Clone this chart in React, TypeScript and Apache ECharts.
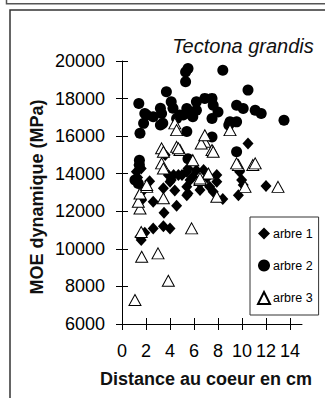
import React, { useEffect, useRef } from "react";
import * as echarts from "echarts";

// Distance from the pith (cm) and dynamic MOE (MPa) for each sampled tree
const arbre1: [number, number][] = [
  [1.2, 14100], [1.4, 14460], [1.6, 14280], [1.3, 13800], [1.8, 13130], [1.64, 12600],
  [1.5, 10650], [1.6, 10470], [1.9, 10860], [2.6, 11090], [3.45, 11210], [4.0, 11090],
  [3.5, 11920], [2.6, 12510], [4.55, 12300], [5.4, 12860], [3.45, 13220], [4.0, 13570],
  [4.3, 13930], [4.7, 13930], [5.4, 13300], [3.6, 14990], [3.86, 13930], [4.1, 13660],
  [5.0, 13930], [5.5, 14280], [5.67, 13660], [6.2, 14190], [6.5, 13480], [6.5, 13130],
  [5.5, 12950], [5.9, 13840], [5.4, 14100], [7.9, 13930], [7.9, 13570], [7.6, 13040],
  [8.4, 12650], [9.7, 12860], [9.8, 14100], [9.97, 13660], [10.1, 13400], [12.0, 13350],
  [10.5, 15610], [6.8, 14200], [7.1, 13800], [7.3, 13300], [2.3, 13600], [4.4, 13100],
];

const arbre2: [number, number][] = [
  [1.4, 17740], [1.5, 16150], [1.8, 16680], [2.05, 17120], [2.6, 17030], [3.2, 17490],
  [3.2, 16590], [3.7, 18360], [4.1, 17830], [4.25, 17490], [4.55, 16940], [5.3, 19420],
  [5.5, 19600], [5.3, 18890], [5.4, 16250], [6.2, 17380], [8.4, 19510], [10.5, 18450],
  [6.2, 17830], [6.9, 18010], [7.5, 18010], [7.6, 17650], [8.0, 17290], [7.5, 16940],
  [5.4, 17470], [5.1, 17120], [5.9, 17030], [9.55, 17650], [10.1, 17470], [11.1, 17380],
  [11.6, 17210], [13.5, 16850], [9.0, 16760], [9.55, 16760], [8.9, 16590], [7.5, 15960],
  [9.55, 15170], [1.45, 14720], [1.45, 14460], [1.08, 13660], [1.36, 13480], [1.9, 17210],
  [3.3, 17210], [3.4, 16680], [4.8, 17120], [5.8, 17120], [5.5, 14800],
];

const arbre3: [number, number][] = [
  [1.08, 7280], [1.64, 9580], [3.0, 9760], [3.86, 8300], [5.8, 11090], [3.45, 12690],
  [1.5, 12150], [1.36, 12510], [1.5, 12950], [2.06, 13300], [1.6, 10900], [3.3, 14550],
  [3.45, 14280], [4.4, 16680], [4.55, 15430], [3.3, 15350], [6.9, 15700], [6.6, 15610],
  [7.5, 15260], [9.0, 16320], [9.7, 14460], [10.9, 14460], [4.83, 15260], [6.9, 16050],
  [7.6, 15170], [13.0, 13300], [7.2, 14010], [6.5, 13660], [10.25, 13300], [7.9, 12770],
  [5.9, 14720], [4.55, 16320], [3.45, 15170], [4.7, 15350], [2.06, 13400], [6.5, 13750],
  [9.55, 14550], [11.1, 14550],
];

const seriesNames = ["arbre 1", "arbre 2", "arbre 3"];
const xTicks = [0, 2, 4, 6, 8, 10, 12, 14];
const xMin = 0;
const xMax = 15;
const yMin = 6000;
const yMax = 20000;
const yStep = 2000;

const titleText = "Tectona grandis";
const xTitle = "Distance au coeur en cm";
const yTitle = "MOE dynamique (MPa)";

const FONT = "'Liberation Sans', Arial, sans-serif";
const INK = "#000";

export default function App() {
  const ref = useRef<HTMLDivElement>(null);

  useEffect(() => {
    if (!ref.current) return;
    const chart = echarts.init(ref.current, null, { renderer: "svg" });

    const tickLen = 6;
    const outerX = {
      type: "value",
      min: xMin,
      max: xMax,
      interval: 2,
      axisLine: { show: true, lineStyle: { color: INK, width: 1 } },
      axisTick: { show: true, length: tickLen, customValues: xTicks, lineStyle: { color: INK } },
      axisLabel: {
        show: true,
        customValues: xTicks,
        margin: 18,
        fontSize: 18,
        fontFamily: FONT,
        color: INK,
      },
      splitLine: { show: false },
    };
    // second, label-less axes give the ticks that cross into the plot
    const innerX = {
      type: "value",
      min: xMin,
      max: xMax,
      interval: 2,
      position: "bottom",
      axisLine: { show: false },
      axisTick: { show: true, inside: true, length: tickLen, customValues: xTicks, lineStyle: { color: INK } },
      axisLabel: { show: false },
      splitLine: { show: false },
    };
    const outerY = {
      type: "value",
      min: yMin,
      max: yMax,
      interval: yStep,
      axisLine: { show: true, lineStyle: { color: INK, width: 1 } },
      axisTick: { show: true, length: tickLen, lineStyle: { color: INK } },
      axisLabel: {
        margin: 17,
        fontSize: 18,
        fontFamily: FONT,
        color: INK,
        formatter: (v: number) => String(v),
      },
      splitLine: { show: false },
    };
    const innerY = {
      type: "value",
      min: yMin,
      max: yMax,
      interval: yStep,
      position: "left",
      axisLine: { show: false },
      axisTick: { show: true, inside: true, length: tickLen, lineStyle: { color: INK } },
      axisLabel: { show: false },
      splitLine: { show: false },
    };

    chart.setOption({
      animation: false,
      backgroundColor: "#fff",
      grid: { left: 122, top: 61, right: 23, bottom: 74, outerBoundsMode: "none" },
      xAxis: [outerX, innerX],
      yAxis: [outerY, innerY],
      legend: {
        orient: "vertical",
        left: 250,
        top: 217,
        padding: [10, 6, 10, 7],
        itemWidth: 12,
        itemHeight: 12,
        itemGap: 19,
        borderColor: "#333",
        borderWidth: 1,
        backgroundColor: "#fff",
        textStyle: { fontSize: 12.5, fontFamily: FONT, color: INK, lineHeight: 12, padding: [0, 0, 0, -2] },
        data: seriesNames,
      },
      series: [
        {
          name: seriesNames[0],
          type: "scatter",
          data: arbre1,
          symbol: "diamond",
          symbolSize: [11, 12],
          itemStyle: { color: "#000", opacity: 1 },
          z: 2,
        },
        {
          name: seriesNames[1],
          type: "scatter",
          data: arbre2,
          symbol: "circle",
          symbolSize: 11,
          itemStyle: { color: "#000", opacity: 1 },
          z: 3,
        },
        {
          name: seriesNames[2],
          type: "scatter",
          data: arbre3,
          symbol: "triangle",
          symbolSize: [12, 11],
          itemStyle: { color: "#fff", borderColor: "#000", borderWidth: 1, opacity: 1 },
          z: 4,
        },
      ],
      graphic: [
        {
          type: "rect",
          silent: true,
          shape: { x: 6.5, y: -20, width: 400, height: 23.7 },
          style: { fill: "none", stroke: "#555", lineWidth: 1.5 },
        },
        {
          type: "rect",
          silent: true,
          shape: { x: 10, y: 10, width: 400, height: 500 },
          style: { fill: "none", stroke: "#333", lineWidth: 1.5 },
        },
        {
          type: "text",
          x: 243,
          y: 46,
          style: {
            text: titleText,
            fontSize: 20,
            fontStyle: "italic",
            fontFamily: FONT,
            fill: "#111",
            align: "center",
            verticalAlign: "middle",
          },
        },
        {
          type: "text",
          x: 206,
          y: 379,
          style: {
            text: xTitle,
            fontSize: 18,
            fontWeight: "bold",
            fontFamily: FONT,
            fill: "#111",
            align: "center",
            verticalAlign: "middle",
          },
        },
        {
          type: "text",
          x: 37,
          y: 197,
          rotation: Math.PI / 2,
          style: {
            text: yTitle,
            fontSize: 18,
            fontWeight: "bold",
            fontFamily: FONT,
            fill: "#111",
            align: "center",
            verticalAlign: "middle",
          },
        },
      ],
    });

    return () => chart.dispose();
  }, []);

  return (
    <div
      ref={ref}
      style={{ position: "fixed", left: 0, top: 0, width: 325, height: 398 }}
    />
  );
}
